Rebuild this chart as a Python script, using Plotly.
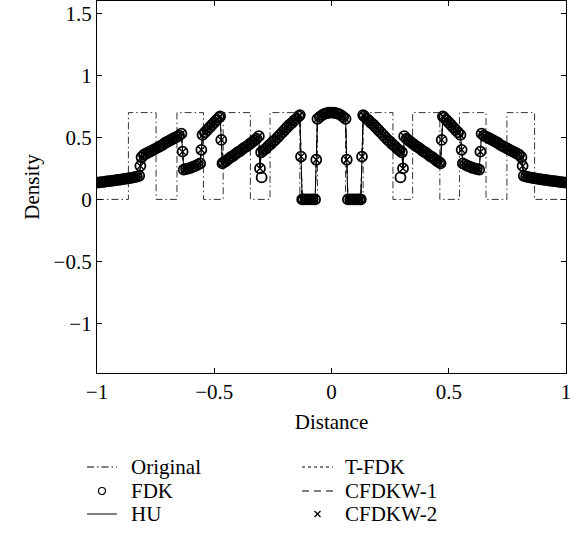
import plotly.graph_objects as go

# step edges of the original phantom profile (value holds until next edge)
orig_x = [-1.0, -0.866, -0.748, -0.659, -0.546, -0.462, -0.346, -0.262, -0.135, -0.06,
          0.06, 0.135, 0.262, 0.346, 0.462, 0.546, 0.659, 0.748, 0.866, 1.0]
orig_y = [0.0, 0.7, 0.0, 0.7, 0.0, 0.7, 0.0, 0.7, 0.0, 0.7,
          0.0, 0.7, 0.0, 0.7, 0.0, 0.7, 0.0, 0.7, 0.0, 0.0]

dist = [
    -1.00, -0.99, -0.98, -0.97, -0.96, -0.95, -0.94, -0.93, -0.92, -0.91,
    -0.90, -0.89, -0.88, -0.87, -0.86, -0.85, -0.84, -0.83, -0.82,
    -0.815,
    -0.81, -0.80, -0.79, -0.78, -0.77, -0.76, -0.75, -0.74, -0.73, -0.72,
    -0.71, -0.70, -0.69, -0.68, -0.67, -0.66, -0.65, -0.64,
    -0.635,
    -0.63, -0.62, -0.61, -0.60, -0.59, -0.58, -0.57, -0.56,
    -0.555,
    -0.55, -0.54, -0.53, -0.52, -0.51, -0.50, -0.49, -0.48, -0.475,
    -0.47, -0.465,
    -0.46, -0.45, -0.44, -0.43, -0.42, -0.41, -0.40, -0.39, -0.38, -0.37,
    -0.36, -0.35, -0.34, -0.33, -0.32, -0.31,
    -0.305,
    -0.30, -0.29, -0.28, -0.27, -0.26, -0.25, -0.24, -0.23, -0.22, -0.21,
    -0.20, -0.19, -0.18, -0.17, -0.16, -0.15, -0.14, -0.135,
    -0.13, -0.125,
    -0.12, -0.11, -0.10, -0.09, -0.08, -0.07,
    -0.065,
    -0.06, -0.05, -0.04, -0.03, -0.02, -0.01, 0.00, 0.01, 0.02, 0.03, 0.04, 0.05, 0.06,
    0.065,
    0.07, 0.08, 0.09, 0.10, 0.11, 0.12, 0.125,
    0.13,
    0.135, 0.14, 0.15, 0.16, 0.17, 0.18, 0.19, 0.20, 0.21, 0.22,
    0.23, 0.24, 0.25, 0.26, 0.27, 0.28, 0.29, 0.30,
    0.305,
    0.31, 0.32, 0.33, 0.34, 0.35, 0.36, 0.37, 0.38, 0.39, 0.40,
    0.41, 0.42, 0.43, 0.44, 0.45, 0.46,
    0.465, 0.47,
    0.475, 0.48, 0.49, 0.50, 0.51, 0.52, 0.53, 0.54, 0.55,
    0.555,
    0.56, 0.57, 0.58, 0.59, 0.60, 0.61, 0.62, 0.63,
    0.635,
    0.64, 0.65, 0.66, 0.67, 0.68, 0.69, 0.70, 0.71, 0.72, 0.73,
    0.74, 0.75, 0.76, 0.77, 0.78, 0.79, 0.80, 0.81,
    0.815,
    0.82, 0.83, 0.84, 0.85, 0.86, 0.87, 0.88, 0.89, 0.90, 0.91,
    0.92, 0.93, 0.94, 0.95, 0.96, 0.97, 0.98, 0.99, 1.00,
]

# HU reconstruction (T-FDK, CFDKW-1 and CFDKW-2 lie on top of it)
hu = [
    0.135, 0.137, 0.140, 0.142, 0.145, 0.147, 0.150, 0.152, 0.155, 0.157,
    0.160, 0.163, 0.166, 0.169, 0.172, 0.175, 0.179, 0.184, 0.190,
    0.270,
    0.340, 0.360, 0.370, 0.380, 0.390, 0.400, 0.410, 0.420, 0.430, 0.440,
    0.455, 0.465, 0.475, 0.485, 0.495, 0.505, 0.515, 0.530,
    0.385,
    0.240, 0.245, 0.250, 0.255, 0.265, 0.270, 0.280, 0.290,
    0.400,
    0.520, 0.540, 0.560, 0.580, 0.600, 0.620, 0.640, 0.660, 0.670,
    0.480, 0.290,
    0.300, 0.310, 0.325, 0.340, 0.350, 0.365, 0.380, 0.390, 0.405, 0.420,
    0.430, 0.445, 0.460, 0.475, 0.490, 0.510,
    0.250,
    0.380, 0.395, 0.410, 0.430, 0.445, 0.465, 0.480, 0.500, 0.520, 0.540,
    0.560, 0.580, 0.600, 0.615, 0.635, 0.650, 0.670, 0.680,
    0.345, 0.0,
    0.0, 0.0, 0.0, 0.0, 0.0, 0.0,
    0.320,
    0.650, 0.665, 0.680, 0.690, 0.695, 0.700, 0.700, 0.700, 0.695, 0.690, 0.680, 0.665, 0.650,
    0.320,
    0.0, 0.0, 0.0, 0.0, 0.0, 0.0, 0.0,
    0.345,
    0.680, 0.670, 0.650, 0.635, 0.615, 0.600, 0.580, 0.560, 0.540, 0.520,
    0.500, 0.480, 0.465, 0.445, 0.430, 0.410, 0.395, 0.380,
    0.250,
    0.510, 0.490, 0.475, 0.460, 0.445, 0.430, 0.420, 0.405, 0.390, 0.380,
    0.365, 0.350, 0.340, 0.325, 0.310, 0.300,
    0.290, 0.480,
    0.670, 0.660, 0.640, 0.620, 0.600, 0.580, 0.560, 0.540, 0.520,
    0.400,
    0.290, 0.280, 0.270, 0.265, 0.255, 0.250, 0.245, 0.240,
    0.385,
    0.530, 0.515, 0.505, 0.495, 0.485, 0.475, 0.465, 0.455, 0.440, 0.430,
    0.420, 0.410, 0.400, 0.390, 0.380, 0.370, 0.360, 0.340,
    0.270,
    0.190, 0.184, 0.179, 0.175, 0.172, 0.169, 0.166, 0.163, 0.160, 0.157,
    0.155, 0.152, 0.150, 0.147, 0.145, 0.142, 0.140, 0.137, 0.135,
]

# extra FDK undershoot samples near +-0.3
fdk_dip_x = [-0.298, 0.294]
fdk_dip_y = [0.177, 0.177]

legend_col1 = ["Original", "FDK", "HU"]
legend_col2 = ["T-FDK", "CFDKW-1", "CFDKW-2"]

FONT = "Liberation Serif"
FS = 21
INK = "black"
DASHDOT = "7px,3px,1.5px,3px"

# plot area in page pixels, used to place the hand-drawn legend
L, R, T, B = 97, 566, 1, 373


def px(x):
    return (x - L) / (R - L)


def py(y):
    return (B - y) / (B - T)


fig = go.Figure()

fig.add_trace(go.Scatter(
    x=orig_x, y=orig_y, name="Original", mode="lines", line_shape="hv",
    line=dict(color="#333333", width=1, dash=DASHDOT),
))
fig.add_trace(go.Scatter(
    x=dist, y=hu, name="T-FDK", mode="lines",
    line=dict(color=INK, width=1, dash="dot"),
))
fig.add_trace(go.Scatter(
    x=dist, y=hu, name="CFDKW-1", mode="lines",
    line=dict(color=INK, width=1, dash="dash"),
))
fig.add_trace(go.Scatter(
    x=dist, y=hu, name="HU", mode="lines",
    line=dict(color=INK, width=1),
))
fig.add_trace(go.Scatter(
    x=dist + fdk_dip_x, y=hu + fdk_dip_y, name="FDK", mode="markers",
    marker=dict(symbol="circle-open", size=10, color=INK, line=dict(width=1.8)),
))
fig.add_trace(go.Scatter(
    x=dist, y=hu, name="CFDKW-2", mode="markers",
    marker=dict(symbol="x-thin-open", size=7, color=INK, line=dict(width=1.4, color=INK)),
))
fig.update_traces(showlegend=False)

axis_common = dict(
    showline=True, linecolor=INK, linewidth=1.2, mirror="ticks",
    ticks="inside", ticklen=5, tickcolor=INK, showgrid=False, zeroline=False,
    tickfont=dict(family=FONT, size=FS, color=INK),
)
fig.update_xaxes(
    range=[-1, 1], tickvals=[-1, -0.5, 0, 0.5, 1],
    title=dict(text="Distance", font=dict(family=FONT, size=FS), standoff=11),
    **axis_common,
)
fig.update_yaxes(
    range=[-1.4, 1.6], tickvals=[-1, -0.5, 0, 0.5, 1, 1.5],
    title=dict(text="Density", font=dict(family=FONT, size=FS), standoff=8),
    **axis_common,
)

# legend drawn by hand: two columns, three rows
rows_y = [467, 491, 514]
col_sym = [(87, 117), (302, 333)]
col_txt = [129, 343]
shapes = []
annotations = []
styles = [
    [("line", DASHDOT), ("circle", None), ("line", "solid")],
    [("line", "dot"), ("line", "7px,5px"), ("cross", None)],
]
for c, labels in enumerate([legend_col1, legend_col2]):
    x0, x1 = col_sym[c]
    xm = (x0 + x1) / 2
    for r, label in enumerate(labels):
        y = rows_y[r]
        kind, dash = styles[c][r]
        if kind == "line":
            shapes.append(dict(type="line", xref="paper", yref="paper",
                               x0=px(x0), x1=px(x1), y0=py(y), y1=py(y),
                               line=dict(color=INK, width=1, dash=dash)))
        elif kind == "circle":
            shapes.append(dict(type="circle", xref="paper", yref="paper",
                               x0=px(xm - 3.5), x1=px(xm + 3.5), y0=py(y + 3.5), y1=py(y - 3.5),
                               line=dict(color=INK, width=1.2)))
        else:
            for s in (1, -1):
                shapes.append(dict(type="line", xref="paper", yref="paper",
                                   x0=px(xm - 3), x1=px(xm + 3), y0=py(y - 3 * s), y1=py(y + 3 * s),
                                   line=dict(color=INK, width=1.2)))
        annotations.append(dict(text=label, xref="paper", yref="paper",
                                x=px(col_txt[c]), y=py(y), xanchor="left", yanchor="middle",
                                showarrow=False, font=dict(family=FONT, size=FS, color=INK)))

fig.update_layout(
    width=580, height=544,
    margin=dict(l=L, r=580 - R, t=T, b=544 - B),
    paper_bgcolor="white", plot_bgcolor="white",
    font=dict(family=FONT, size=FS, color=INK),
    showlegend=False,
    shapes=shapes,
    annotations=annotations,
)

fig.write_html("out.html", config={"displayModeBar": False},
               post_script="document.body.style.margin='0';")
